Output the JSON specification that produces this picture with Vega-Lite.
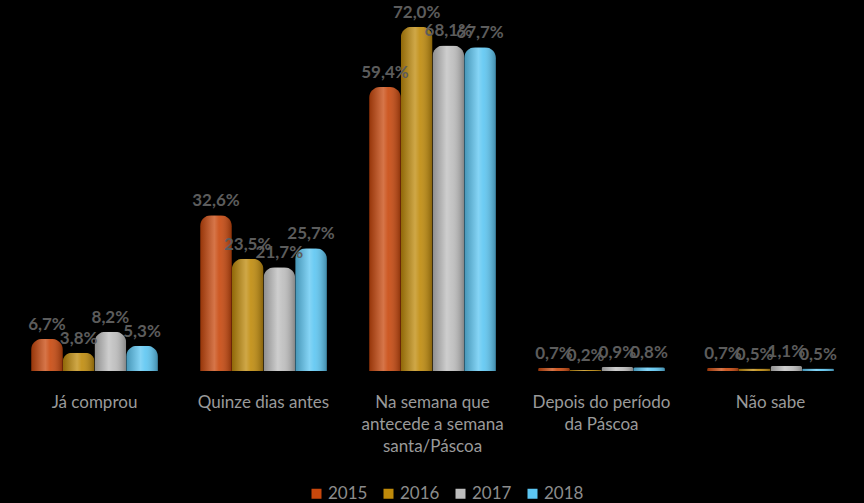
{
  "$schema": "https://vega.github.io/schema/vega-lite/v6.json",
  "width": 845,
  "height": 371,
  "autosize": {"type": "none"},
  "padding": {"left": 10, "top": 0, "right": 9, "bottom": 132},
  "background": "#000000",
  "config": {
    "view": {"stroke": null},
    "font": "Lato",
    "locale": {"number": {"decimal": ",", "thousands": ".", "grouping": [3], "currency": ["", " €"]}}
  },
  "data": {
    "values": [
      {"categoria": "Já comprou", "ano": "2015", "valor": 0.067},
      {"categoria": "Já comprou", "ano": "2016", "valor": 0.038},
      {"categoria": "Já comprou", "ano": "2017", "valor": 0.082},
      {"categoria": "Já comprou", "ano": "2018", "valor": 0.053},
      {"categoria": "Quinze dias antes", "ano": "2015", "valor": 0.326},
      {"categoria": "Quinze dias antes", "ano": "2016", "valor": 0.235},
      {"categoria": "Quinze dias antes", "ano": "2017", "valor": 0.217},
      {"categoria": "Quinze dias antes", "ano": "2018", "valor": 0.257},
      {"categoria": "Na semana que antecede a semana santa/Páscoa", "ano": "2015", "valor": 0.594},
      {"categoria": "Na semana que antecede a semana santa/Páscoa", "ano": "2016", "valor": 0.720},
      {"categoria": "Na semana que antecede a semana santa/Páscoa", "ano": "2017", "valor": 0.681},
      {"categoria": "Na semana que antecede a semana santa/Páscoa", "ano": "2018", "valor": 0.677},
      {"categoria": "Depois do período da Páscoa", "ano": "2015", "valor": 0.007},
      {"categoria": "Depois do período da Páscoa", "ano": "2016", "valor": 0.002},
      {"categoria": "Depois do período da Páscoa", "ano": "2017", "valor": 0.009},
      {"categoria": "Depois do período da Páscoa", "ano": "2018", "valor": 0.008},
      {"categoria": "Não sabe", "ano": "2015", "valor": 0.007},
      {"categoria": "Não sabe", "ano": "2016", "valor": 0.005},
      {"categoria": "Não sabe", "ano": "2017", "valor": 0.011},
      {"categoria": "Não sabe", "ano": "2018", "valor": 0.005}
    ]
  },
  "encoding": {
    "x": {
      "field": "categoria",
      "type": "nominal",
      "sort": null,
      "scale": {"paddingInner": 0.25, "paddingOuter": 0.125},
      "axis": {
        "title": null,
        "domain": false,
        "ticks": false,
        "labelAngle": 0,
        "labelColor": "#9a9a9a",
        "labelFontSize": 17,
        "labelPadding": 23,
        "labelLineHeight": 22,
        "labelLimit": 300,
        "labelExpr": "datum.label == 'Na semana que antecede a semana santa/Páscoa' ? ['Na semana que', 'antecede a semana', 'santa/Páscoa'] : datum.label == 'Depois do período da Páscoa' ? ['Depois do período', 'da Páscoa'] : datum.label"
      }
    },
    "xOffset": {"field": "ano", "type": "nominal", "scale": {"paddingInner": 0, "paddingOuter": 0}},
    "y": {
      "field": "valor",
      "type": "quantitative",
      "scale": {"domain": [0, 0.776], "nice": false},
      "axis": null
    }
  },
  "layer": [
    {
      "mark": {"type": "bar", "cornerRadiusTopLeft": 11, "cornerRadiusTopRight": 11},
      "encoding": {
        "color": {
          "field": "ano",
          "type": "nominal",
          "scale": {"domain": ["2015", "2016", "2017", "2018"], "range": ["#c8470c", "#bf8a0a", "#bdbdbd", "#5cc6f2"]},
          "legend": {
            "title": null,
            "orient": "none",
            "direction": "horizontal",
            "legendX": 298,
            "legendY": 485,
            "symbolType": "square",
            "symbolSize": 100,
            "symbolStrokeWidth": 0,
            "labelColor": "#8c8c8c",
            "labelFontSize": 17,
            "labelOffset": 3,
            "columnPadding": 12
          }
        }
      }
    },
    {
      "mark": {
        "type": "bar",
        "cornerRadiusTopLeft": 11,
        "cornerRadiusTopRight": 11,
        "fill": {
          "gradient": "linear",
          "x1": 0, "y1": 0, "x2": 1, "y2": 0,
          "stops": [
            {"offset": 0, "color": "rgba(0,0,0,0.25)"},
            {"offset": 0.45, "color": "rgba(255,255,255,0.25)"},
            {"offset": 0.6, "color": "rgba(255,255,255,0.1)"},
            {"offset": 1, "color": "rgba(0,0,0,0.3)"}
          ]
        }
      }
    },
    {
      "mark": {"type": "text", "dy": -5, "fontSize": 17, "fontWeight": "bold", "color": "#5c5c5c", "baseline": "bottom"},
      "encoding": {
        "text": {"field": "valor", "type": "quantitative", "format": ".1%"}
      }
    }
  ]
}
